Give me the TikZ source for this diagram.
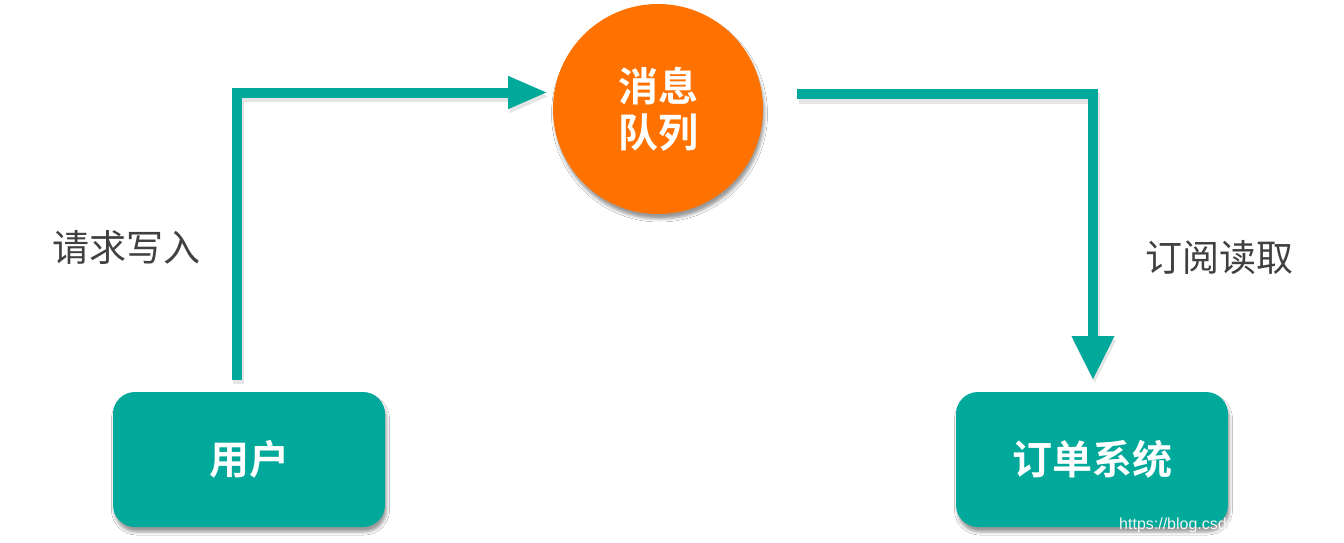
\documentclass[tikz,border=0pt]{standalone}
\usepackage{fontspec}
\newfontfamily\cjk{Noto Sans CJK SC}
\newfontfamily\cjkbold{Noto Sans CJK SC Bold}
\newfontfamily\wmfont{Liberation Sans}
\usetikzlibrary{arrows.meta,shadows.blur}
\definecolor{mqteal}{RGB}{0,169,154}
\definecolor{mqorange}{RGB}{255,114,0}
\definecolor{lblgray}{RGB}{64,64,64}
\begin{document}
\begin{tikzpicture}[x=1pt,y=-1pt,
  softshadow/.style={blur shadow={shadow xshift=1.5pt,shadow yshift=-5pt,shadow blur radius=3pt,shadow opacity=40}},
  box/.style={fill=mqteal,rounded corners=22pt,minimum width=272pt,minimum height=135pt,inner sep=0pt,
    text=white,font=\cjkbold\fontsize{40pt}{48pt}\selectfont,softshadow},
  mqnode/.style={circle,fill=mqorange,minimum size=210pt,inner sep=0pt,text=white,align=center,
    font=\cjkbold\fontsize{40pt}{50pt}\selectfont,softshadow},
  flow/.style={draw=mqteal,line width=10pt,line join=miter},
  flowshadow/.style={draw=black,opacity=0.10,line width=11pt,line join=miter},
  lbl/.style={text=lblgray,font=\cjk\fontsize{37pt}{44pt}\selectfont,inner sep=0pt}
]
\useasboundingbox (0,0) rectangle (1344,543);
\fill[white] (0,0) rectangle (1344,543);

% nodes
\node[mqnode] (mq) at (658,109) {消息\\[-4pt]队列};
\node[box] (user) at (249,459.5) {用户};
\node[box] (order) at (1092,459.5) {订单系统};

% connector ends
\coordinate (a1) at (237,380);
\coordinate (a2) at (548,92.5);
\coordinate (b1) at (797,94);
\coordinate (b2) at (1093,380);

% connector shadows
\draw[flowshadow,-{Triangle[length=40pt,width=30pt]}] ([shift={(1.5,4)}]a1) |- ([shift={(1.5,4)}]a2);
\draw[flowshadow,-{Triangle[length=44pt,width=40pt]}] ([shift={(1.5,4)}]b1) -| ([shift={(1.5,4)}]b2);

% connectors
\draw[flow,-{Triangle[length=40pt,width=30pt]}] (a1) |- (a2);
\draw[flow,-{Triangle[length=44pt,width=40pt]}] (b1) -| (b2);

% labels
\node[lbl] (l1) at (126,247) {请求写入};
\node[lbl] (l2) at (1219,258) {订阅读取};

% watermark
\begin{scope}
\clip (1100,500) rectangle (1228,543);
\node[anchor=base west,inner sep=0pt,text=white!92!gray,font=\wmfont\fontsize{16pt}{18pt}\selectfont] (wm) at (1119,529) {https://blog.csdn};
\end{scope}
\end{tikzpicture}
\end{document}
